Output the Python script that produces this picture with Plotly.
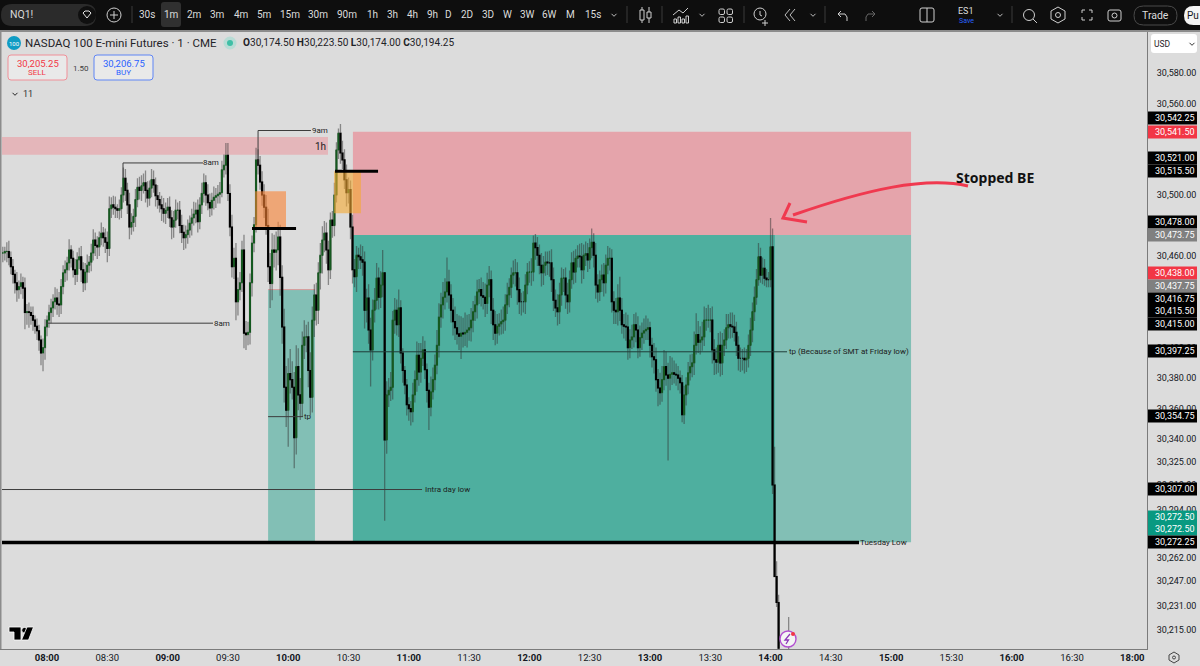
import plotly.graph_objects as go

# NQ1! one-minute session, 07:38 onward (minutes since midnight)
first_minute = 458
closes = [
    30462,30463,30463,30459,30453,30448,30442.5,30438,30440,30442.5,
    30439,30423,30423.5,30423,30421,30418,30414,30411,30405,30396.5,
    30400,30413.5,30418,30423,30426,30430,30432.5,30428.5,30428,30440,
    30449,30451,30455.5,30464,30458.5,30451,30448,30457.5,30459.5,30451,
    30442.5,30449.5,30454,30456,30462,30470.5,30467,30466,30472,30475,
    30472,30469,30465,30491,30493.5,30492,30491,30490,30491,30500,
    30511,30503,30493.5,30479,30482,30486,30497,30505,30503,30506,
    30508,30503,30498,30504.5,30510,30506.5,30499.5,30497,30493.5,30491,
    30488,30490,30492,30485,30479,30483.5,30490,30490,30480,30475.5,
    30472,30474,30477,30481.5,30485,30487.5,30490,30482.5,30493.5,30501,
    30508,30500,30495,30491.5,30496.5,30498.5,30499.5,30500.5,30501.5,30516.5,
    30519.5,30526,30501,30479,30453,30458.5,30430,30438,30442.5,30464,
    30409.5,30408.5,30410,30442.5,30468.5,30480.5,30523,30519.5,30508.5,30500,
    30492,30480,30453,30442,30464,30462.5,30464,30472.5,30446,30413.5,
    30374,30359,30383,30379,30374,30341,30387.5,30369,30363.5,30401.5,
    30407,30407,30385,30367.5,30418,30434.5,30424.5,30449,30460.5,30470.5,
    30475,30464,30451,30483.5,30480,30500,30529.5,30540.5,30527.5,30523,
    30510,30501.5,30503.5,30479,30451,30446.5,30460.5,30459.5,30457.5,30456,
    30424.5,30432.5,30411.5,30398.5,30424.5,30431,30445.5,30433,30441,30449,
    30339.5,30369,30372,30374,30418,30424.5,30415,30426,30396.5,30385,
    30375.5,30362.5,30360,30358,30369,30379,30395,30384,30393,30398.5,
    30385.5,30372,30361,30371,30379,30388.5,30401.5,30420,30428,30433,
    30436.5,30443,30434.5,30424.5,30417,30413,30409,30407.5,30409.5,30409,
    30410,30411.5,30413,30418,30423.5,30428,30436.5,30438,30434,30433,
    30429,30441,30444.5,30424.5,30415,30409.5,30414,30415.5,30417,30418,
    30428,30434.5,30439.5,30447.5,30449,30449,30438,30430,30430,30430,
    30441,30449.5,30449.5,30449.5,30468.5,30465.5,30460.5,30454,30449,30454,
    30456,30455.5,30455.5,30444.5,30431,30426,30423.5,30434.5,30445.5,30445.5,
    30434.5,30430,30444.5,30455.5,30449.5,30458.5,30460,30459.5,30451,30460.5,
    30461.5,30457.5,30465.5,30469,30460.5,30441,30436.5,30444.5,30447.5,30442.5,
    30454,30458.5,30458.5,30430,30424.5,30423.5,30432.5,30424.5,30415,30414,
    30413.5,30400,30405,30407,30415,30411.5,30400,30406.5,30409.5,30411,
    30412,30413,30401.5,30394,30392,30379,30373.5,30370.5,30379,30387.5,
    30382,30380,30382.5,30383.5,30382.5,30382,30380,30377,30356,30369,
    30375.5,30383.5,30387.5,30390,30401.5,30408.5,30403.5,30405,30407,30418,
    30418,30418,30418,30398.5,30392,30390.5,30401.5,30390,30401.5,30405,
    30413,30415,30414,30413.5,30410,30401.5,30393,30393,30393,30392,
    30393,30401.5,30411.5,30423.5,30433,30444.5,30459.5,30447.5,30452,30445.5,
    30444.5,30444.5,30466,30310,30250,30233,30203,
]
# Wick lengths in index points above and below each candle body
upper_wick = [
    4,3,6,7,4,5,3,7,4,6, 4,7,5,6,4,6,3,5,4,3, 6,5,3,5,6,5,7,6,8,5, 5,6,4,7,3,5,7,5,6,7,
    5,6,7,4,6,7,5,6,4,7, 4,6,7,8,5,6,7,3,6,5, 7,6,5,8,6,5,7,6,7,7, 6,8,6,5,7,6,5,7,5,6,
    7,5,6,7,5,6,7,5,6,7, 5,6,7,5,6,8,5,7,5,7, 6,5,7,6,5,7,5,6,7,6, 7,8,8,6,8,7,10,8,7,6,
    10,8,7,6,5,5,8,7,6,7, 7,8,11,9,11,10,12,10,8,8, 12,14,10,16,12,10,14,12,11,9, 11,8,10,12,9,7,8,7,8,9,
    8,7,6,5,6,8,5,3,6,8, 7,10,8,6,8,7,6,5,8,9, 7,6,9,8,7,8,10,7,9,15, 0,9,8,10,6,8,7,12,5,3,
    3,4,5,5,8,6,9,8,10,9, 6,4,5,10,8,7,10,9,8,10, 9,16,8,7,8,10,9,12,11,10, 13,10,9,8,7,6,8,7,8,9,
    9,8,9,6,8,9,8,7,8,9, 7,8,6,5,8,9,7,8,6,7, 7,6,7,9,5,6,7,7,8,6, 7,7,8,9,8,7,9,8,7,6,
    7,8,6,7,8,6,7,8,9,7, 8,7,6,9,6,8,7,6,7,8, 7,8,7,6,7,8,9,14,8,7, 9,8,7,8,7,8,9,8,7,8,
    9,6,4,5,9,8,7,10,9,11, 10,8,12,10,8,7,6,5,5,6, 5,7,8,6,9,14,9,9,10,9, 8,10,8,9,7,8,8,9,8,7,
    9,7,8,9,8,7,6,7,6,7, 6,7,8,6,7,7,9,6,7,6, 6,5,19,12,25,10,5,
]
lower_wick = [
    6,5,7,5,5,6,7,8,6,5, 7,11,8,10,6,7,5,6,7,8, 12,8,6,5,7,6,5,7,8,6, 5,6,7,5,6,5,7,5,6,8,
    6,5,7,5,6,5,7,8,6,5, 6,7,9,5,6,5,6,5,6,6, 5,7,6,8,5,6,7,5,6,7, 5,8,6,5,6,5,7,6,5,8,
    6,7,5,6,8,7,5,6,5,7, 8,7,6,5,8,5,6,7,5,6, 6,7,5,6,5,6,7,5,6,3, 5,6,5,6,7,8,12,9,7,6,
    10,10,7,8,9,6,5,6,5,7, 7,6,10,16,11,10,12,10,12,11, 10,11,24,9,8,20,11,10,11,9, 9,10,11,12,10,11,10,9,11,12,
    8,9,10,6,8,7,5,6,7,6, 6,9,7,8,9,7,10,8,6,9, 12,8,9,24,7,8,6,8,7,8, 53,9,8,7,8,9,7,8,7,8,
    6,7,8,9,7,5,8,9,7,5, 6,8,15,6,5,7,6,8,7,9, 8,7,9,8,9,8,7,9,15,9, 8,10,7,9,8,6,9,8,7,8,
    9,7,8,9,10,8,7,6,7,8, 7,6,8,7,6,9,10,8,9,7, 8,6,7,9,6,8,7,6,9,8, 7,8,9,8,7,6,9,8,7,9,
    9,8,7,6,8,7,6,7,9,6, 7,8,6,7,8,9,7,6,8,9, 7,6,8,7,9,8,9,7,6,8, 9,8,7,6,7,8,7,6,8,7,
    6,7,8,7,9,8,12,8,6,7, 7,54,8,7,6,7,8,7,5,6, 7,6,5,7,8,6,7,8,7,6, 7,5,8,9,10,8,7,9,8,7,
    6,7,8,7,6,7,8,9,8,9, 8,6,7,8,6,5,4,5,6,5, 5,5,5,6,0,3,3,
]
# Candle under the crosshair, as printed in the legend
legend_minute, legend_open, legend_high, legend_low, legend_close = 849, 30174.50, 30223.50, 30174.00, 30194.25

y_ticks = [30580,30560,30500,30460,30400,30380,30360,
           30340,30325,30310,30294,30262,30247,30231,30215]
x_ticks = [480,510,540,570,600,630,660,690,720,750,780,810,840,870,900,930,960,990,1020]
x_tick_text = ["<b>08:00</b>","08:30","<b>09:00</b>","09:30","<b>10:00</b>","10:30","<b>11:00</b>",
               "11:30","<b>12:00</b>","12:30","<b>13:00</b>","13:30","<b>14:00</b>","14:30",
               "<b>15:00</b>","15:30","<b>16:00</b>","16:30","<b>18:00</b>"]

# Right-hand price tags: text, colour, centre row on the scale strip
price_tags = [("30,542.25","#000000",118),("30,541.50","#f23645",132),("30,521.00","#000000",158),
              ("30,515.50","#000000",171),("30,478.00","#000000",222),("30,473.75","#808080",235),
              ("30,438.00","#f23645",273),("30,437.75","#808080",286),("30,416.75","#000000",299),
              ("30,415.50","#000000",311),("30,415.00","#000000",324),("30,397.25","#000000",351),
              ("30,354.75","#000000",416),("30,307.00","#000000",489),("30,272.50","#089981",517),
              ("30,272.50","#089981",529),("30,272.25","#000000",542)]
intervals = [("30s",147),("1m",171),("2m",194),("3m",217),("4m",241),("5m",264),("15m",290),("30m",318),
             ("90m",347),("1h",372),("3h",392),("4h",412),("9h",432),("D",449),("2D",467),("3D",488),
             ("W",507),("3W",527),("6W",549),("M",570),("15s",593)]

times = [first_minute + i for i in range(len(closes))] + [legend_minute]
opens = [closes[0]] + closes[:-1] + [legend_open]
all_closes = closes + [legend_close]
highs = [max(o, c) + w for o, c, w in zip(opens, closes, upper_wick)] + [legend_high]
lows = [min(o, c) - w for o, c, w in zip(opens, closes, lower_wick)] + [legend_low]
body_top = [max(o, c) for o, c in zip(opens, all_closes)]
body_bottom = [min(o, c) for o, c in zip(opens, all_closes)]

fig = go.Figure()
grey_wick = "rgba(50,50,50,0.5)"
fig.add_trace(go.Candlestick(
    x=times, open=opens, high=highs, low=lows, close=all_closes, hoverinfo="skip",
    whiskerwidth=0,
    increasing=dict(line=dict(color=grey_wick, width=1.3), fillcolor="rgba(0,0,0,0)"),
    decreasing=dict(line=dict(color=grey_wick, width=1.3), fillcolor="rgba(0,0,0,0)"),
))
fig.add_trace(go.Candlestick(
    x=times, open=opens, high=body_top, low=body_bottom, close=all_closes, hoverinfo="skip",
    whiskerwidth=0,
    increasing=dict(line=dict(color="#14591f", width=1), fillcolor="#14591f"),
    decreasing=dict(line=dict(color="#000000", width=1.1), fillcolor="#000000"),
))

shapes = []
notes = []

# --- drawing tools bound to the time and price scales ---
def box(x0, x1, y0, y1, color, layer="below"):
    shapes.append(dict(type="rect", xref="x", yref="y", x0=x0, x1=x1, y0=y0, y1=y1,
                       fillcolor=color, line=dict(width=0), layer=layer))

def seg(x0, y0, x1, y1, color="#3c3c3c", width=1, layer="above"):
    shapes.append(dict(type="line", xref="x", yref="y", x0=x0, y0=y0, x1=x1, y1=y1,
                       line=dict(color=color, width=width), layer=layer))

def tag(text, x, y, size=8, color="#1c1c1c"):
    notes.append(dict(text=text, xref="x", yref="y", x=x, y=y, showarrow=False,
                      font=dict(family="Roboto", size=size, color=color),
                      xanchor="center", yanchor="middle"))

box(457.6, 619.8, 30526.3, 30538, "#e4b6ba")
box(632.2, 909.9, 30473.75, 30541.5, "#e5a4ab")
box(632.2, 909.9, 30272.5, 30473.75, "#82bfb5")
box(632.2, 842.2, 30272.5, 30473.75, "#4eaf9f")
box(590, 613.3, 30272.5, 30438, "#82bfb5")
seg(590, 30438, 613.3, 30438, "#d99a9a", 1, "below")
box(583.5, 598.9, 30478, 30502.5, "rgba(250,130,50,0.6)", "above")
box(622.8, 636.2, 30488, 30515.5, "rgba(245,170,50,0.6)", "above")

seg(457.6, 30272.25, 884, 30272.25, "#000000", 3.5)
seg(582, 30478, 603.9, 30478, "#000000", 3)
seg(623.3, 30515.5, 644.7, 30515.5, "#000000", 3)
seg(479.5, 30416, 562.6, 30416)
seg(517.8, 30521, 557.6, 30521)
seg(517.8, 30521, 517.8, 30511)
seg(585, 30542.25, 611.3, 30542.25)
seg(585, 30542.25, 585, 30519)
seg(590, 30354.75, 607.4, 30354.75)
seg(457.6, 30307, 666.6, 30307)
seg(632.2, 30397.25, 848.2, 30397.25, "#1f3d38")

tag("8am", 561.6, 30521)
tag("8am", 567, 30416)
tag("9am", 615.8, 30542.25)
tag("tp", 609.9, 30354.75)
tag("Intra day low", 679.5, 30307)
tag("tp (Because of SMT at Friday low)", 879, 30397.25)
tag("Tuesday Low", 896.4, 30272.25)
tag("1h", 616.3, 30532, 10)

# --- helpers for chrome placed in screen rows and columns ---
# Paper space spans the plot area, so screen pixels are rescaled against its margins.
plot_left, plot_top, plot_w, plot_h = 0, 32, 1147, 617

def X(v):
    return (v - plot_left) / plot_w

def Y(v):
    return 1 - (v - plot_top) / plot_h

def rect(x0, y0, x1, y1, fill=None, stroke=None, w=1):
    shapes.append(dict(type="rect", xref="paper", yref="paper", x0=X(x0), x1=X(x1), y0=Y(y0), y1=Y(y1),
                       fillcolor=fill or "rgba(0,0,0,0)", line=dict(color=stroke or "rgba(0,0,0,0)", width=w if stroke else 0),
                       layer="above"))

def circle(cx, cy, r, fill=None, stroke=None, w=1):
    shapes.append(dict(type="circle", xref="paper", yref="paper", x0=X(cx - r), x1=X(cx + r), y0=Y(cy - r), y1=Y(cy + r),
                       fillcolor=fill or "rgba(0,0,0,0)", line=dict(color=stroke or "rgba(0,0,0,0)", width=w if stroke else 0),
                       layer="above"))

def path(points, stroke=None, w=1, fill=None, closed=False, curve=False):
    if curve:
        head = points[0]
        d = f"M{X(head[0])},{Y(head[1])} C" + " ".join(f"{X(a)},{Y(b)}" for a, b in points[1:])
    else:
        d = "M" + " L".join(f"{X(a)},{Y(b)}" for a, b in points) + (" Z" if closed else "")
    shapes.append(dict(type="path", xref="paper", yref="paper", path=d, fillcolor=fill or "rgba(0,0,0,0)",
                       line=dict(color=stroke or "rgba(0,0,0,0)", width=w if stroke else 0), layer="above"))

def rounded(x0, y0, x1, y1, r, fill=None, stroke=None, w=1):
    d = (f"M{X(x0+r)},{Y(y0)} L{X(x1-r)},{Y(y0)} Q{X(x1)},{Y(y0)} {X(x1)},{Y(y0+r)} L{X(x1)},{Y(y1-r)} "
         f"Q{X(x1)},{Y(y1)} {X(x1-r)},{Y(y1)} L{X(x0+r)},{Y(y1)} Q{X(x0)},{Y(y1)} {X(x0)},{Y(y1-r)} "
         f"L{X(x0)},{Y(y0+r)} Q{X(x0)},{Y(y0)} {X(x0+r)},{Y(y0)} Z")
    shapes.append(dict(type="path", xref="paper", yref="paper", path=d, fillcolor=fill or "rgba(0,0,0,0)",
                       line=dict(color=stroke or "rgba(0,0,0,0)", width=w if stroke else 0), layer="above"))

def text(s, x, y, size=10, color="#131722", anchor="center", family="Roboto"):
    notes.append(dict(text=s, xref="paper", yref="paper", x=X(x), y=Y(y), showarrow=False,
                      font=dict(family=family, size=size, color=color), xanchor=anchor, yanchor="middle",
                      borderpad=0, borderwidth=0))

def chevron(cx, cy, color="#bcbcbc", s=2.5):
    path([(cx - s, cy - 1.2), (cx, cy + 1.3), (cx + s, cy - 1.2)], color, 1)

# Toolbar strip
rect(0, 0, 1200, 30, "#0e0e0e")
rect(0, 30, 1200, 32, "#8c8c8c")
rect(0, 32, 1.5, 649, "#8c8c8c")
rounded(1, 4, 96, 26, 11, "#2b2b2b")
circle(87, 15, 9, "#101010")
path([(83, 13), (85, 11), (89, 11), (91, 13), (87, 18)], "#e6e6e6", 1, closed=True)
text("NQ1!", 10, 15, 10.5, "#d8d8d8", "left")
circle(114, 15, 7, None, "#cfcfcf")
path([(110, 15), (118, 15)], "#cfcfcf")
path([(114, 11), (114, 19)], "#cfcfcf")
rounded(161, 2, 181, 27, 3, "#303030")
for sep_x in (132, 627, 662, 744, 825, 1012):
    path([(sep_x, 6), (sep_x, 23)], "#3a3a3a")
for lab, cx in intervals:
    text(lab, cx, 15, 10, "#dcdcdc")
chevron(614, 15)
# candle style
path([(642, 7), (642, 23)], "#cfcfcf")
rect(640, 10, 644, 20, "#0e0e0e", "#cfcfcf")
path([(649, 7), (649, 23)], "#cfcfcf")
rect(647, 12, 651, 18, "#0e0e0e", "#cfcfcf")
# indicators
path([(673, 15), (679, 10), (683, 13), (688, 8)], "#cfcfcf")
for bar_x, bar_y in ((674, 19), (678, 17), (682, 19), (686, 16)):
    rect(bar_x, bar_y, bar_x + 2.5, 23, None, "#cfcfcf")
chevron(702, 15)
# layouts
for tile_x, tile_y in ((719, 9), (727, 9), (719, 17), (727, 17)):
    rounded(tile_x, tile_y, tile_x + 5.5, tile_y + 5.5, 1.5, None, "#cfcfcf")
# alert
circle(760, 14, 6, None, "#cfcfcf")
path([(760, 11), (760, 15), (762, 16)], "#cfcfcf")
path([(762, 23), (768, 23)], "#cfcfcf")
path([(765, 20), (765, 26)], "#cfcfcf")
# replay
path([(790, 9), (785, 15), (790, 21)], "#bcbcbc")
path([(795, 9), (790, 15), (795, 21)], "#bcbcbc")
chevron(813, 15)
# undo, redo
path([(841, 11), (838, 14), (841, 17)], "#cfcfcf")
path([(838, 14), (845, 14), (847, 17), (847, 21)], "#cfcfcf")
path([(872, 11), (875, 14), (872, 17)], "#666666")
path([(875, 14), (868, 14), (866, 17), (866, 21)], "#666666")
# split view
rounded(920, 8, 934, 22, 2, None, "#cfcfcf")
path([(927, 8), (927, 22)], "#cfcfcf")
text("ES1", 966, 11, 9, "#dcdcdc")
text("Save", 966, 21, 7, "#2962ff")
chevron(1000, 15)
# search, settings, fullscreen, snapshot
circle(1029, 15, 5.5, None, "#cfcfcf")
path([(1033, 19), (1037, 23)], "#cfcfcf")
path([(1058, 7), (1065, 11), (1065, 19), (1058, 23), (1051, 19), (1051, 11)], "#cfcfcf", closed=True)
circle(1058, 15, 2.5, None, "#cfcfcf")
for cx, cy, dx, dy in ((1082, 10, 1, 1), (1092, 10, -1, 1), (1082, 20, 1, -1), (1092, 20, -1, -1)):
    path([(cx + 3 * dx, cy), (cx, cy), (cx, cy + 3 * dy)], "#cfcfcf")
rounded(1108, 10, 1121, 21, 2, None, "#cfcfcf")
circle(1114.5, 15.5, 2.5, None, "#cfcfcf")
rounded(1134, 6, 1177, 25, 9.5, None, "#4a4a4a")
text("Trade", 1155, 15.5, 10.5, "#dcdcdc")
rounded(1184, 6, 1212, 25, 9.5, "#f4f4f4")
text("Pu", 1187, 15.5, 10, "#131722", "left")

# Symbol legend
circle(14, 43, 7, "#0f9cc4")
text("100", 14, 43.5, 6, "#ffffff")
text("NASDAQ 100 E-mini Futures · 1 · CME", 24.5, 43, 11.5, "#1f2328", "left")
circle(230, 43, 6.5, "#b8dcd5")
circle(230, 43, 3, "#3fbfa6")
text("<b>O</b>30,174.50 <b>H</b>30,223.50 <b>L</b>30,174.00 <b>C</b>30,194.25", 243, 43, 10.1, "#1f2328", "left")
rounded(8, 55, 67, 80, 3, "#e9e9e9", "#f08f98")
text("30,205.25", 37.5, 63, 9.5, "#f23645")
text("SELL", 37.5, 73, 8, "#f23645")
text("1.50", 80.5, 68, 8, "#404040")
rounded(94, 55, 153, 80, 3, "#e9e9e9", "#5f85f5")
text("30,206.75", 123.5, 63, 9.5, "#2962ff")
text("BUY", 123.5, 73, 8, "#2962ff")
chevron(15, 94, "#222222")
text("11", 28, 94, 9, "#333333")

# Price scale extras
rounded(1151, 34, 1197, 53, 3, "#ffffff")
text("USD", 1154, 44, 8.5, "#1f2328", "left")
chevron(1192, 44, "#333333")
for value, color, row in price_tags:
    rect(1148, row - 6.5, 1197, row + 6.5, color)
    text(value, 1174.5, row, 9, "#ffffff")
# Settings hexagon under the scale
path([(1174, 652), (1179, 655), (1179, 660), (1174, 663), (1169, 660), (1169, 655)], "#444444", closed=True)
circle(1174, 657.5, 1.5, None, "#444444")

# TradingView mark, knocked out of the pane with a white rim
path([(9, 627), (21, 627), (21, 640), (14, 640), (14, 632), (9, 632)], "#ffffff", 0.8, fill="#000000", closed=True)
circle(24.5, 630.2, 2.8, "#000000", "#ffffff", 0.8)
path([(27, 627), (33.5, 627), (28.5, 640), (21.5, 640)], "#ffffff", 0.8, fill="#000000", closed=True)

# Handwritten note with its arrow
path([(968, 186), (925, 176), (865, 190), (793, 215)], "#f0394f", 3, curve=True)
path([(790, 203), (783, 218), (807, 222)], "#f0394f", 3)
text("<b>Stopped BE</b>", 994.5, 177.5, 14, "#111111", family="Noto Sans")

# Live-feed badge sitting on the last candle
circle(788, 639, 8, "#f4f4f4", "#b24fd0", 1.4)
path([(790, 634), (785, 640), (788.5, 640), (786, 644)], "#8d35b8", 1.3)
circle(793, 634, 2, "#f23645")

fig.update_layout(
    width=1200, height=666, autosize=False,
    margin=dict(l=0, r=53, t=32, b=17),
    paper_bgcolor="#dcdcdc", plot_bgcolor="#dcdcdc",
    showlegend=False, shapes=shapes, annotations=notes,
    font=dict(family="Roboto", color="#131722"),
    xaxis=dict(range=[456.6, 1027.3], rangeslider=dict(visible=False), showgrid=False, zeroline=False,
               tickmode="array", tickvals=x_ticks, ticktext=x_tick_text, ticks="", tickangle=0,
               tickfont=dict(size=9.5, family="Roboto", color="#131722"),
               showline=True, linecolor="#7b7b7b", linewidth=1),
    yaxis=dict(side="right", range=[30202.5, 30606.8], showgrid=False, zeroline=False,
               tickmode="array", tickvals=y_ticks, ticktext=[f"{v:,.2f}" for v in y_ticks], ticks="",
               tickfont=dict(size=9, family="Roboto", color="#131722"), ticklabelstandoff=7,
               showline=True, linecolor="#7b7b7b", linewidth=1),
)

fig.write_html("out.html", config={"displayModeBar": False})
